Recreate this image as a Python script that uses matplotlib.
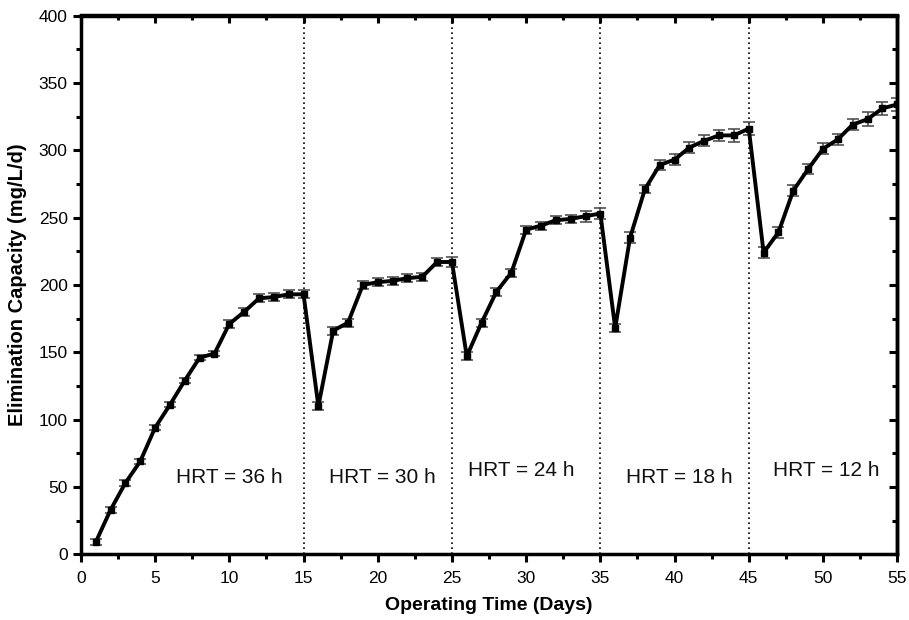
import matplotlib.pyplot as plt
from matplotlib.ticker import MultipleLocator

plt.rcParams['font.family'] = ['Liberation Sans', 'DejaVu Sans']

days = list(range(1, 56))
ec = [9, 33, 53, 69, 94, 111, 129, 146, 149, 171,
      180, 190, 191, 193, 193, 110, 166, 172, 200, 202,
      203, 205, 206, 217, 217, 147, 172, 195, 209, 241,
      244, 248, 249, 251, 253, 168, 235, 271, 289, 293,
      302, 307, 311, 311, 316, 224, 239, 270, 286, 301,
      308, 319, 323, 331, 334]
ec_err = [2, 2, 2, 2, 2, 2, 2, 2, 2, 3,
          3, 3, 3, 3, 3, 3, 3, 3, 3, 3,
          3, 3, 3, 3, 4, 3, 3, 3, 3, 3,
          3, 3, 3, 4, 4, 3, 4, 3, 4, 4,
          4, 4, 4, 5, 5, 4, 4, 4, 4, 4,
          4, 4, 5, 5, 5]

hrt_bounds = [15, 25, 35, 45]
hrt_labels = ['HRT = 36 h', 'HRT = 30 h', 'HRT = 24 h', 'HRT = 18 h', 'HRT = 12 h']
label_x = [10.0, 20.3, 29.7, 40.3, 50.2]
label_y = [53, 53, 58, 53, 58]

fig = plt.figure(figsize=(9.09, 6.2), dpi=100)
ax = fig.add_axes([0.089, 0.106, 0.898, 0.869])

# HRT change markers
for b in hrt_bounds:
    ax.axvline(b, color='black', linestyle=(0, (1, 2)), linewidth=1.2, zorder=1)

ax.errorbar(days, ec, yerr=ec_err, fmt='none', ecolor='#444444',
            elinewidth=1.1, capsize=4, capthick=1.1, zorder=2)
ax.plot(days, ec, color='black', linewidth=2.8, marker='s', markersize=4.5, zorder=3)

for t, x, y in zip(hrt_labels, label_x, label_y):
    ax.text(x, y, t, fontsize=15, ha='center', va='baseline', color='#111111')

ax.set_xlim(0, 55)
ax.set_ylim(0, 400)
ax.xaxis.set_major_locator(MultipleLocator(5))
ax.xaxis.set_minor_locator(MultipleLocator(2.5))
ax.yaxis.set_major_locator(MultipleLocator(50))
ax.yaxis.set_minor_locator(MultipleLocator(25))

for side in ax.spines.values():
    side.set_linewidth(2.5)

ax.tick_params(axis='both', which='major', length=6, width=2.2, labelsize=12.5, direction='out')
ax.tick_params(axis='both', which='minor', length=3.5, width=2.2, direction='out')
ax.tick_params(axis='x', pad=6)

# mirrored ticks pointing inward on top and right
top = ax.secondary_xaxis('top')
top.set_xticks(range(0, 56, 5))
top.xaxis.set_minor_locator(MultipleLocator(2.5))
top.tick_params(which='major', direction='in', length=6, width=2.2, labeltop=False)
top.tick_params(which='minor', direction='in', length=3.5, width=2.2)
right = ax.secondary_yaxis('right')
right.set_yticks(range(0, 401, 50))
right.yaxis.set_minor_locator(MultipleLocator(25))
right.tick_params(which='major', direction='in', length=6, width=2.2, labelright=False)
right.tick_params(which='minor', direction='in', length=3.5, width=2.2)
for sax in (top, right):
    for side in sax.spines.values():
        side.set_linewidth(2.5)

ax.set_xlabel('Operating Time (Days)', fontsize=14, fontweight='bold', labelpad=8)
ax.set_ylabel('Elimination Capacity (mg/L/d)', fontsize=14.5, fontweight='bold', labelpad=8)

fig.savefig('out.png', dpi=100)
